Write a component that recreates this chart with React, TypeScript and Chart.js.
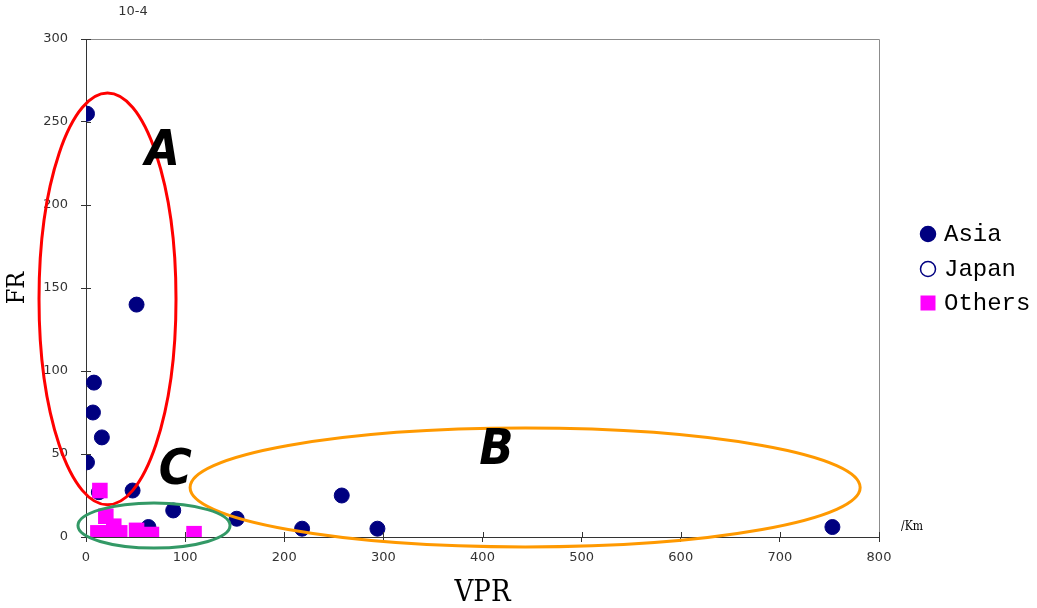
import { useEffect, useRef } from 'react';
import { Chart, registerables } from 'chart.js';

Chart.register(...registerables);

// ---- data ----
const seriesNames = ['Asia', 'Japan', 'Others'];
const asiaVPR = [1, 51, 8, 7, 16, 1, 13, 47, 88, 63, 152, 218, 258, 294, 753];
const asiaFR = [255, 140, 93, 75, 60, 45, 27, 28, 16, 6, 11, 5, 25, 5, 6];
const japanVPR: number[] = [];
const japanFR: number[] = [];
const othersVPR = [14, 20, 28, 12, 22, 34, 51, 66, 109];
const othersFR = [28, 12.5, 6.5, 2.5, 2.5, 2.5, 4, 1.5, 2];
const xTickValues = [0, 100, 200, 300, 400, 500, 600, 700, 800];
const yTickValues = [0, 50, 100, 150, 200, 250, 300];
const regionNames = ['A', 'B', 'C'];

// ---- annotation geometry (data units) ----
const regionShapes = [
  { cx: 21.7, cy: 143.4, rx: 69.1, ry: 124, color: '#FF0000', lx: 77, ly: 232 },
  { cx: 443, cy: 29.8, rx: 338, ry: 35.8, color: '#FF9900', lx: 414, ly: 52 },
  { cx: 68.6, cy: 6.9, rx: 76.7, ry: 13.6, color: '#339966', lx: 90, ly: 40 },
];

const toXY = (xs: number[], ys: number[]) => xs.map((v, i) => ({ x: v, y: ys[i] }));

const NAVY = '#000080';
const MAGENTA = '#FF00FF';

const overlayPlugin = {
  id: 'overlay',
  afterDraw(chart: any) {
    const { ctx, chartArea, scales } = chart;
    const { left, right, top, bottom } = chartArea;
    const xs = scales.x;
    const ys = scales.y;
    ctx.save();
    // frame top/right
    ctx.strokeStyle = '#8c8c8c';
    ctx.lineWidth = 1;
    ctx.beginPath();
    ctx.moveTo(left, Math.round(top) + 0.5);
    ctx.lineTo(Math.round(right) + 0.5, Math.round(top) + 0.5);
    ctx.lineTo(Math.round(right) + 0.5, bottom);
    ctx.stroke();
    // inner ticks
    ctx.strokeStyle = '#333';
    ctx.beginPath();
    ys.ticks.forEach((t: any) => {
      const py = Math.round(ys.getPixelForValue(t.value)) + 0.5;
      ctx.moveTo(left, py);
      ctx.lineTo(left + 5, py);
    });
    xs.ticks.forEach((t: any) => {
      const px = Math.round(xs.getPixelForValue(t.value)) + 0.5;
      ctx.moveTo(px, bottom);
      ctx.lineTo(px, bottom - 5);
    });
    ctx.stroke();
    // ellipses
    regionShapes.forEach((r, i) => {
      const px = xs.getPixelForValue(r.cx);
      const py = ys.getPixelForValue(r.cy);
      const rxp = Math.abs(xs.getPixelForValue(r.cx + r.rx) - px);
      const ryp = Math.abs(ys.getPixelForValue(r.cy + r.ry) - py);
      ctx.strokeStyle = r.color;
      ctx.lineWidth = 3;
      ctx.beginPath();
      ctx.ellipse(px, py, rxp, ryp, 0, 0, Math.PI * 2);
      ctx.stroke();
      ctx.fillStyle = '#000';
      ctx.font = 'italic bold 50px "DejaVu Sans Condensed", "DejaVu Sans", sans-serif';
      ctx.textAlign = 'center';
      ctx.textBaseline = 'middle';
      ctx.fillText(regionNames[i], xs.getPixelForValue(r.lx), ys.getPixelForValue(r.ly));
    });
    // exponent label and unit
    ctx.fillStyle = '#333';
    ctx.font = '13px "DejaVu Sans", sans-serif';
    ctx.textAlign = 'center';
    ctx.textBaseline = 'middle';
    ctx.fillText('10-4', 133, 12);
    ctx.fillStyle = '#000';
    ctx.font = '12px "DejaVu Serif Condensed", "DejaVu Serif", serif';
    ctx.textAlign = 'left';
    ctx.fillText('/Km', right + 22, ys.getPixelForValue(6));
    // legend
    const rowsY = [234, 269, 303];
    chart.data.datasets.forEach((ds: any, i: number) => {
      const cy = rowsY[i];
      const cx = 928;
      ctx.lineWidth = 1.5;
      if (ds.pointStyle === 'rect') {
        ctx.fillStyle = ds.backgroundColor;
        ctx.fillRect(cx - 7.5, cy - 7.5, 15, 15);
      } else {
        ctx.beginPath();
        ctx.arc(cx, cy, 7.5, 0, Math.PI * 2);
        ctx.fillStyle = ds.backgroundColor;
        ctx.fill();
        ctx.strokeStyle = ds.borderColor;
        ctx.stroke();
      }
      ctx.fillStyle = '#000';
      ctx.font = '24px "Liberation Mono", monospace';
      ctx.textAlign = 'left';
      ctx.textBaseline = 'middle';
      ctx.fillText(ds.label, 944, cy + 1);
    });
    ctx.restore();
  },
};

export default function App() {
  const ref = useRef<HTMLCanvasElement | null>(null);
  useEffect(() => {
    document.body.style.margin = '0';
    if (!ref.current) return;
    const chart = new Chart(ref.current, {
      type: 'scatter',
      data: {
        datasets: [
          {
            label: seriesNames[0],
            data: toXY(asiaVPR, asiaFR),
            backgroundColor: NAVY,
            borderColor: NAVY,
            pointStyle: 'circle',
            pointRadius: 7.5,
            borderWidth: 1,
            order: 2,
          },
          {
            label: seriesNames[1],
            data: toXY(japanVPR, japanFR),
            backgroundColor: '#FFFFFF',
            borderColor: NAVY,
            pointStyle: 'circle',
            pointRadius: 7.5,
            borderWidth: 1.5,
            order: 1,
          },
          {
            label: seriesNames[2],
            data: toXY(othersVPR, othersFR),
            backgroundColor: MAGENTA,
            borderColor: MAGENTA,
            pointStyle: 'rect',
            pointRadius: 11,
            borderWidth: 0,
            order: 0,
          },
        ],
      },
      options: {
        animation: false,
        responsive: true,
        maintainAspectRatio: false,
        layout: { padding: { top: 39, right: 158, left: 0, bottom: 0 } },
        plugins: { legend: { display: false }, tooltip: { enabled: false } },
        scales: {
          x: {
            type: 'linear',
            min: 0,
            max: 800,
            afterBuildTicks: (s: any) => {
              s.ticks = xTickValues.map((v) => ({ value: v }));
            },
            afterFit: (s: any) => {
              s.height = 71;
            },
            ticks: {
              color: '#333',
              padding: 8,
              font: { family: '"DejaVu Sans", sans-serif', size: 13 },
            },
            grid: { display: true, drawOnChartArea: false, drawTicks: true, tickLength: 5, color: '#333' },
            border: { display: true, color: '#333', width: 1 },
            title: {
              display: true,
              text: 'VPR',
              color: '#000',
              padding: { top: 0, bottom: 0 },
              font: { family: '"DejaVu Serif Condensed", "DejaVu Serif", serif', size: 29, lineHeight: 1 },
            },
          },
          y: {
            type: 'linear',
            min: 0,
            max: 300,
            afterBuildTicks: (s: any) => {
              s.ticks = yTickValues.map((v) => ({ value: v }));
            },
            afterFit: (s: any) => {
              s.width = 86;
            },
            ticks: {
              color: '#333',
              padding: 13,
              font: { family: '"DejaVu Sans", sans-serif', size: 13 },
            },
            grid: { display: true, drawOnChartArea: false, drawTicks: true, tickLength: 5, color: '#333' },
            border: { display: true, color: '#333', width: 1 },
            title: {
              display: true,
              text: 'FR',
              color: '#000',
              padding: { top: 5, bottom: 0 },
              font: { family: '"DejaVu Serif Condensed", "DejaVu Serif", serif', size: 25, lineHeight: 1 },
            },
          },
        },
      },
      plugins: [overlayPlugin],
    });
    return () => chart.destroy();
  }, []);
  return (
    <div style={{ position: 'relative', width: '1037px', height: '608px' }}>
      <canvas ref={ref} />
    </div>
  );
}
